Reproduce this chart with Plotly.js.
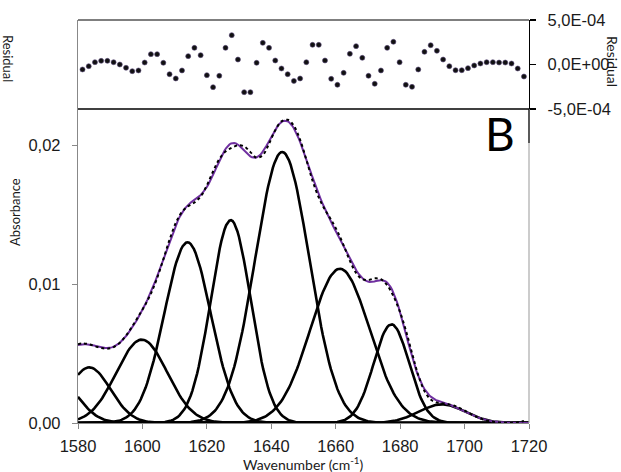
<!DOCTYPE html>
<html>
<head>
<meta charset="utf-8">
<script src="https://cdn.plot.ly/plotly-3.0.1.min.js"></script>
<style>html,body{margin:0;padding:0;background:#fff;}#chart{width:621px;height:472px;}</style>
</head>
<body>
<div id="chart"></div>
<script>
// Band components (cm-1, absorbance, Gaussian sigma in cm-1)
const bandCenters = [1573.0, 1583.5, 1599.8, 1614.0, 1627.4, 1643.4, 1661.3, 1677.3, 1693.0];
const bandHeights = [0.0033, 0.0040, 0.0060, 0.0130, 0.0146, 0.0195, 0.0111, 0.0071, 0.00134];
const bandSigmas  = [6.6, 6.6, 7.9, 7.2, 6.2, 8.4, 9.2, 5.5, 7.2];

// Residual points (units of 1e-4), sampled from 1581.4 cm-1 every 1.93 cm-1
const residualStart = 1581.4;
const residualStep = 1.93;
const residualValues = [
 -0.56,-0.19,0.26,0.41,0.41,0.26,0.00,-0.37,-0.75,-0.67,
  0.22,1.16,1.16,0.19,-1.09,-1.57,-0.67,0.94,1.87,1.05,
 -1.20,-2.55,-1.27,1.87,3.30,0.56,-3.11,-3.11,0.19,2.43,
  1.87,0.45,-0.45,-1.09,-1.84,-1.57,0.26,2.21,2.21,0.45,
 -1.61,-2.28,-0.94,1.20,2.06,0.75,-1.27,-2.17,-0.67,1.87,
  2.55,0.26,-2.28,-2.51,-0.56,1.42,2.17,1.54,0.56,-0.19,
 -0.64,-0.64,-0.41,-0.11,0.11,0.26,0.26,0.22,0.22,0.11,
 -0.45,-1.35
];

const xTicks = [1580, 1600, 1620, 1640, 1660, 1680, 1700, 1720];
const yTicks = [0, 0.01, 0.02];
const yTickText = ['0,00', '0,01', '0,02'];
const resTicks = [-5e-4, 0, 5e-4];
const resTickText = ['-5,0E-04', '0,0E+00', '5,0E-04'];

function band(k, x) {
  const d = x - bandCenters[k];
  return bandHeights[k] * Math.exp(-d * d / (2 * bandSigmas[k] * bandSigmas[k]));
}
function fit(x) {
  let s = 0;
  for (let k = 0; k < bandCenters.length; k++) s += band(k, x);
  return s;
}

const grid = [];
for (let x = 1580; x <= 1720.0001; x += 0.5) grid.push(x);

const traces = [];
for (let k = 0; k < bandCenters.length; k++) {
  traces.push({
    x: grid, y: grid.map(x => band(k, x)), type: 'scatter', mode: 'lines',
    line: {color: '#000', width: 2.6}, hoverinfo: 'skip', showlegend: false,
    xaxis: 'x', yaxis: 'y'
  });
}
traces.push({
  x: grid, y: grid.map(fit), type: 'scatter', mode: 'lines',
  line: {color: '#7030A0', width: 2}, hoverinfo: 'skip', showlegend: false,
  xaxis: 'x', yaxis: 'y'
});
const resX = residualValues.map((v, i) => residualStart + i * residualStep);
const resY = residualValues.map(v => v * 1e-4);
const measured = resX.map((x, i) => fit(x) - resY[i]);
traces.push({
  x: [1580].concat(resX), y: [fit(1580) - resY[0]].concat(measured), type: 'scatter', mode: 'lines',
  line: {color: '#000', width: 2, dash: 'dot', shape: 'spline'}, hoverinfo: 'skip', showlegend: false,
  xaxis: 'x', yaxis: 'y'
});
traces.push({
  x: resX, y: resY, type: 'scatter', mode: 'markers',
  marker: {color: '#111', size: 5, line: {color: '#5a4a7a', width: 0.6}},
  hoverinfo: 'skip', showlegend: false, xaxis: 'x', yaxis: 'y2'
});

const tickFont = {family: 'Liberation Sans, Arial, sans-serif', size: 16.5, color: '#1a1a1a'};
const resBottom = (423 - 109) / 403;
const rightSplit = (423 - 143) / 403;

const layout = {
  width: 621, height: 472,
  margin: {l: 78, r: 92, t: 20, b: 49, pad: 0},
  paper_bgcolor: '#fff', plot_bgcolor: 'rgba(0,0,0,0)',
  showlegend: false,
  xaxis: {
    range: [1580, 1720], tickvals: xTicks, ticktext: xTicks.map(String),
    ticks: 'outside', ticklen: 5, tickcolor: '#888', tickwidth: 1,
    showline: true, linecolor: '#888', linewidth: 1,
    showgrid: false, zeroline: false, tickfont: tickFont,
    ticklabelstandoff: 3, anchor: 'y'
  },
  yaxis: {
    range: [0, 0.029], domain: [0, 1], tickvals: yTicks, ticktext: yTickText,
    ticks: 'outside', ticklen: 5, tickcolor: '#888', tickwidth: 1,
    showline: true, linecolor: '#888', linewidth: 1.2,
    showgrid: false, zeroline: false, tickfont: tickFont,
    ticklabelstandoff: 8
  },
  yaxis2: {
    range: [-5e-4, 5e-4], domain: [resBottom, 1], anchor: 'x', side: 'right',
    tickvals: resTicks, ticktext: resTickText,
    ticks: 'outside', ticklen: 6, tickcolor: '#000', tickwidth: 1.2,
    showline: true, linecolor: '#000', linewidth: 1.3,
    showgrid: false, zeroline: false, tickfont: tickFont,
    ticklabelstandoff: 8
  },
  shapes: [
    {type: 'line', xref: 'paper', yref: 'paper', x0: 0, x1: 1, y0: 1, y1: 1, line: {color: '#555', width: 1.6}},
    {type: 'line', xref: 'paper', yref: 'paper', x0: 0, x1: 1, y0: resBottom, y1: resBottom, line: {color: '#000', width: 1.5}},
    {type: 'line', xref: 'paper', yref: 'paper', x0: 1, x1: 1, y0: rightSplit, y1: resBottom, line: {color: '#000', width: 1.3}},
    {type: 'line', xref: 'paper', yref: 'paper', x0: 1, x1: 1, y0: 0, y1: rightSplit, line: {color: '#aaa', width: 1.2}}
  ],
  annotations: [
    {text: 'Wavenumber (cm<sup>-1</sup>)', xref: 'paper', yref: 'paper', x: 0.5, y: (423 - 463) / 403,
     xanchor: 'center', yanchor: 'middle', showarrow: false,
     font: {family: 'Lato, Open Sans, sans-serif', size: 14, color: '#1a1a1a'}},
    {text: 'Absorbance', xref: 'paper', yref: 'paper', x: (15 - 78) / 451, y: (423 - 212) / 403,
     xanchor: 'center', yanchor: 'middle', showarrow: false, textangle: -90,
     font: {family: 'Lato, Open Sans, sans-serif', size: 13, color: '#1a1a1a'}},
    {text: 'Residual', xref: 'paper', yref: 'paper', x: (8 - 78) / 451, y: (423 - 58) / 403,
     xanchor: 'center', yanchor: 'middle', showarrow: false, textangle: 90,
     font: {family: 'Lato, Open Sans, sans-serif', size: 13, color: '#1a1a1a'}},
    {text: 'Residual', xref: 'paper', yref: 'paper', x: (612 - 78) / 451, y: (423 - 61) / 403,
     xanchor: 'center', yanchor: 'middle', showarrow: false, textangle: 90,
     font: {family: 'Lato, Open Sans, sans-serif', size: 14, color: '#1a1a1a'}},
    {text: 'B', xref: 'paper', yref: 'paper', x: (500 - 78) / 451, y: (423 - 133) / 403,
     xanchor: 'center', yanchor: 'middle', showarrow: false,
     font: {family: 'Lato, Open Sans, sans-serif', size: 46, color: '#000'}}
  ]
};

Plotly.newPlot('chart', traces, layout, {staticPlot: true, displayModeBar: false});
</script>
</body>
</html>
